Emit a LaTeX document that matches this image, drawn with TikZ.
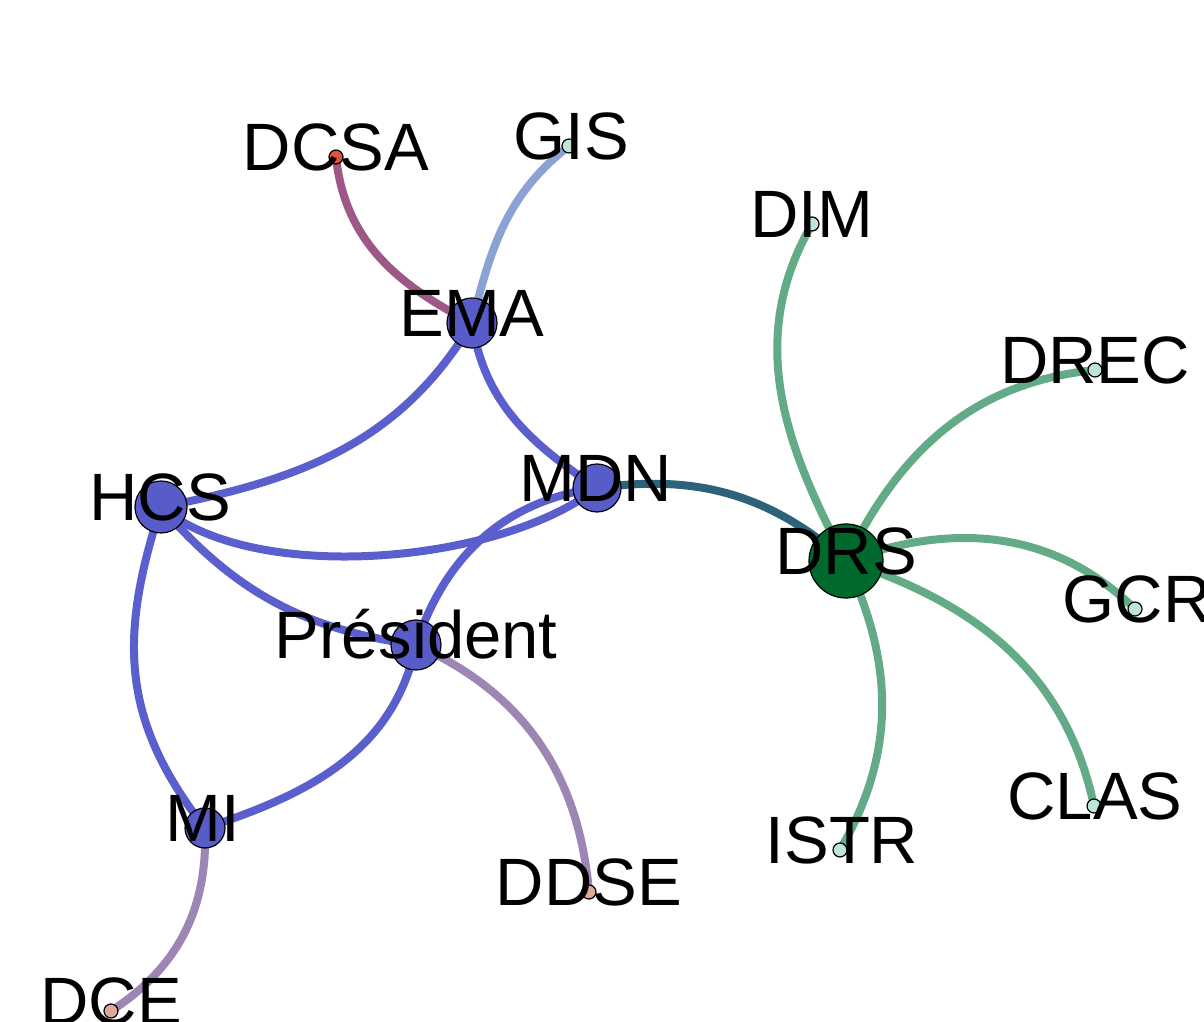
\documentclass[tikz,border=0pt]{standalone}
\usepackage{fontspec}
\setmainfont{Liberation Sans}
\definecolor{nblue}{RGB}{88,92,200}
\definecolor{ngreen}{RGB}{0,106,46}
\definecolor{nlight}{RGB}{189,229,219}
\definecolor{nred}{RGB}{224,80,60}
\definecolor{ntan}{RGB}{224,168,150}
\definecolor{eblue}{RGB}{90,95,205}
\definecolor{egreen}{RGB}{98,171,134}
\definecolor{eteal}{RGB}{44,99,123}
\definecolor{ered}{RGB}{158,88,134}
\definecolor{egis}{RGB}{138,162,212}
\definecolor{etan}{RGB}{157,134,180}
\begin{document}
\begin{tikzpicture}[x=1pt,y=1pt,
  vtx/.style={circle,draw=black,line width=1.2pt,inner sep=0pt},
  bigv/.style={vtx,minimum size=50pt,fill=nblue},
  smallv/.style={vtx,minimum size=14pt},
  lbl/.style={anchor=base,inner sep=0pt,font=\fontsize{67}{67}\selectfont},
  edge/.style={line width=8pt}]
\useasboundingbox (0,0) rectangle (1204,1022);
% vertex positions (named coordinates)
\coordinate (dcsa) at (336,865);
\coordinate (gis)  at (569,876);
\coordinate (dim)  at (812,798);
\coordinate (drec) at (1095,652);
\coordinate (gcr)  at (1135,413);
\coordinate (clas) at (1094,216);
\coordinate (istr) at (840,172);
\coordinate (ddse) at (589,130);
\coordinate (dce)  at (111,11);
\coordinate (ema)  at (472,699);
\coordinate (hcs)  at (161,515);
\coordinate (mdn)  at (597,534);
\coordinate (pres) at (416,377);
\coordinate (mi)   at (205,194);
\coordinate (drs)  at (846,461);
% edges
\draw[edge,ered]   (dcsa) to[out=-84,in=153] (ema);
\draw[edge,egis]   (gis)  to[out=-142,in=76] (ema);
\draw[edge,eblue]  (ema)  to[out=239,in=11]  (hcs);
\draw[edge,eblue]  (ema)  to[out=-81,in=146] (mdn);
\draw[edge,eblue]  (hcs)  to[out=-40,in=218,looseness=0.72] (mdn);
\draw[edge,eblue]  (hcs)  to[out=-49,in=172] (pres);
\draw[edge,eblue]  (hcs)  to[out=252,in=128,looseness=1.08] (mi);
\draw[edge,eblue]  (mdn)  to[out=188,in=72]  (pres);
\draw[edge,eblue]  (pres) to[out=258,in=18]  (mi);
\draw[edge,etan]   (pres) to[out=-24,in=95]  (ddse);
\draw[edge,etan]   (mi)   to[out=-88,in=33]  (dce);
\draw[edge,eteal]  (mdn)  to[out=8,in=139]   (drs);
\draw[edge,egreen] (drs)  to[out=118,in=240] (dim);
\draw[edge,egreen] (drs)  to[out=64,in=186]  (drec);
\draw[edge,egreen] (drs)  to[out=20,in=136]  (gcr);
\draw[edge,egreen] (drs)  to[out=-18,in=102] (clas);
\draw[edge,egreen] (drs)  to[out=-65,in=60]  (istr);
% vertices
\node[smallv,fill=nred]   (dcsa-v) at (dcsa) {};
\node[smallv,fill=nlight] (gis-v)  at (gis) {};
\node[smallv,fill=nlight] (dim-v)  at (dim) {};
\node[smallv,fill=nlight] (drec-v) at (drec) {};
\node[smallv,fill=nlight] (gcr-v)  at (gcr) {};
\node[smallv,fill=nlight] (clas-v) at (clas) {};
\node[smallv,fill=nlight] (istr-v) at (istr) {};
\node[smallv,fill=ntan]   (ddse-v) at (ddse) {};
\node[smallv,fill=ntan]   (dce-v)  at (dce) {};
\node[bigv] (ema-v) at (ema) {};
\node[bigv,minimum size=52pt] (hcs-v) at (hcs) {};
\node[bigv,minimum size=48pt] (mdn-v) at (mdn) {};
\node[bigv] (pres-v) at (pres) {};
\node[bigv,minimum size=40pt] (mi-v) at (mi) {};
\node[vtx,minimum size=74pt,fill=ngreen] (drs-v) at (drs) {};
% labels
\node[lbl] (dcsa-l) at (336,851) {DCSA};
\node[lbl] (gis-l)  at (571,862) {GIS};
\node[lbl] (dim-l)  at (812,784) {DIM};
\node[lbl] (drec-l) at (1095,638) {DREC};
\node[lbl] (gcr-l)  at (1137,399) {GCR};
\node[lbl] (clas-l) at (1095,202) {CLAS};
\node[lbl] (istr-l) at (842,158) {ISTR};
\node[lbl] (ddse-l) at (589,116) {DDSE};
\node[lbl] (dce-l)  at (111,-3) {DCE};
\node[lbl] (ema-l)  at (472,685) {EMA};
\node[lbl] (hcs-l)  at (160,501) {HCS};
\node[lbl] (mdn-l)  at (596,520) {MDN};
\node[lbl] (pres-l) at (416,363) {Président};
\node[lbl] (mi-l)   at (203,180) {MI};
\node[lbl] (drs-l)  at (846,447) {DRS};
\end{tikzpicture}
\end{document}
